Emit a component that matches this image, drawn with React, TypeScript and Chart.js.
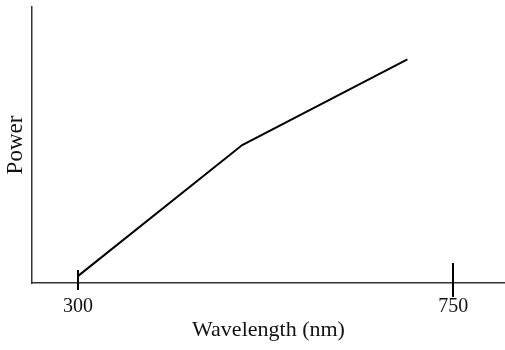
import React, { useEffect, useRef } from "react";
import { Chart, registerables } from "chart.js";

Chart.register(...registerables);

const wavelengths = [300, 497, 695];
const powerValues = [2.5, 50, 81];
const xTickValues = [300, 750];
const xTickLabels = ["300", "750"];

const FONT = "'Liberation Serif', 'DejaVu Serif', serif";

const tickMarkPlugin = {
  id: "crossTicks",
  afterDraw(chart: any) {
    const { ctx, scales } = chart;
    const x = scales.x;
    const yPix = x.top;
    const ext = [
      { up: 13, down: 7 },
      { up: 20, down: 14 },
    ];
    ctx.save();
    ctx.strokeStyle = "#000";
    ctx.lineWidth = 2;
    xTickValues.forEach((v, i) => {
      const px = Math.round(x.getPixelForValue(v));
      ctx.beginPath();
      ctx.moveTo(px, yPix - ext[i].up);
      ctx.lineTo(px, yPix + ext[i].down);
      ctx.stroke();
    });
    ctx.restore();
  },
};

export default function App() {
  const ref = useRef<HTMLCanvasElement>(null);
  useEffect(() => {
    if (!ref.current) return;
    const chart = new Chart(ref.current, {
      type: "line",
      data: {
        datasets: [
          {
            data: wavelengths.map((w, i) => ({ x: w, y: powerValues[i] })),
            borderColor: "#000",
            borderWidth: 2,
            pointRadius: 0,
            tension: 0,
            fill: false,
          },
        ],
      },
      options: {
        responsive: false,
        animation: false,
        layout: { padding: { top: 7, right: 0, left: 0, bottom: 0 } },
        plugins: { legend: { display: false }, tooltip: { enabled: false } },
        scales: {
          x: {
            type: "linear",
            min: 245,
            max: 812,
            afterBuildTicks: (s: any) => {
              s.ticks = xTickValues.map((v) => ({ value: v }));
            },
            afterFit: (s: any) => {
              s.height = 67;
            },
            grid: { display: false, drawTicks: false },
            border: { display: true, color: "#333", width: 1.5 },
            ticks: {
              padding: 12,
              color: "#111",
              font: { family: FONT, size: 20 },
              maxRotation: 0,
              autoSkip: false,
              callback: (v: any) => {
                const i = xTickValues.indexOf(Number(v));
                return i >= 0 ? xTickLabels[i] : "";
              },
            },
            title: {
              display: true,
              text: "Wavelength (nm)",
              color: "#111",
              font: { family: FONT, size: 22 },
              padding: { top: 0, bottom: 7 },
            },
          },
          y: {
            type: "linear",
            min: 0,
            max: 100,
            afterFit: (s: any) => {
              s.width = 32;
            },
            grid: { display: false, drawTicks: false },
            border: { display: true, color: "#333", width: 1.5 },
            ticks: { display: false },
            title: {
              display: true,
              text: "Power",
              color: "#111",
              font: { family: FONT, size: 23 },
              padding: { top: 2, bottom: 0 },
            },
          },
        },
      },
      plugins: [tickMarkPlugin],
    });
    return () => chart.destroy();
  }, []);
  return (
    <div style={{ position: "fixed", left: 0, top: 0, width: 505, height: 350, background: "#fff" }}>
      <canvas ref={ref} width={505} height={350} />
    </div>
  );
}
